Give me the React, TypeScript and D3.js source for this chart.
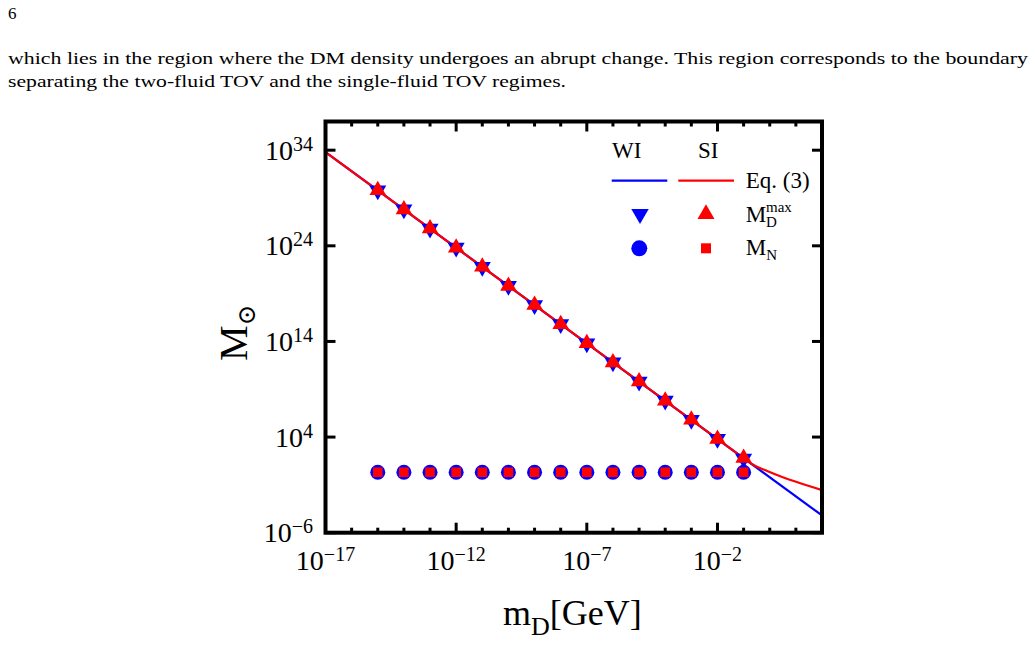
import React from 'react';
import * as d3 from 'd3';

// log10 of dark matter particle mass m_D [GeV] for the computed stars
const mDExp = [-15, -14, -13, -12, -11, -10, -9, -8, -7, -6, -5, -4, -3, -2, -1];
// log10 of M_D^max [M_sun]
const mDmaxWI = [29.8, 27.8, 25.8, 23.8, 21.8, 19.8, 17.8, 15.8, 13.8, 11.8, 9.8, 7.8, 5.8, 3.8, 1.75];
const mDmaxSI = [29.8, 27.8, 25.8, 23.8, 21.8, 19.8, 17.8, 15.8, 13.8, 11.8, 9.8, 7.8, 5.8, 3.8, 1.8];
// M_N [M_sun]
const mNWI = [2.1, 2.1, 2.1, 2.1, 2.1, 2.1, 2.1, 2.1, 2.1, 2.1, 2.1, 2.1, 2.1, 2.1, 2.1];
const mNSI = [2.1, 2.1, 2.1, 2.1, 2.1, 2.1, 2.1, 2.1, 2.1, 2.1, 2.1, 2.1, 2.1, 2.1, 2.1];
// Eq. (3) curves, log10 m_D vs log10 M
const eqWIm = [-17, 2];
const eqWIM = [33.8, -4.2];
const eqSIm = [-17, -1.5, -1, -0.6, -0.1, 0.5, 1.2, 2];
const eqSIM = [33.8, 2.8, 1.8, 1.05, 0.45, -0.2, -0.85, -1.55];

const xMajorExp = [-17, -12, -7, -2];
const xMinorExp = d3.range(-17, 3);
const yMajorExp = [-6, 4, 14, 24, 34];

const BLUE = '#0000ff';
const RED = '#ff0000';
const SERIF = 'Liberation Serif, Times New Roman, serif';

const p10 = (e: number) => Math.pow(10, e);

function triPath(s: number, down: boolean) {
  const h = (s * Math.sqrt(3)) / 2;
  const k = down ? -1 : 1;
  return `M0,${(-2 * h * k) / 3}L${-s / 2},${(h * k) / 3}L${s / 2},${(h * k) / 3}Z`;
}

export default function App() {
  const x0 = 325.5, x1 = 822, y0 = 121.5, y1 = 532.7;
  const x = d3.scaleLog().domain([1e-17, 1e2]).range([x0, x1]);
  const y = d3.scaleLog().domain([1e-6, 1e37]).range([y1, y0]);

  const line = d3
    .line<[number, number]>()
    .x(d => x(p10(d[0])))
    .y(d => y(p10(d[1])));
  const lineSI = d3
    .line<[number, number]>()
    .x(d => x(p10(d[0])))
    .y(d => y(p10(d[1])))
    .curve(d3.curveMonotoneX);

  const wiPts = eqWIm.map((m, i) => [m, eqWIM[i]] as [number, number]);
  const siPts = eqSIm.map((m, i) => [m, eqSIM[i]] as [number, number]);

  return (
    <svg width={1035} height={656} style={{ position: 'absolute', left: 0, top: 0, fontFamily: SERIF }}>
      <rect width={1035} height={656} fill="#fff" />
      {/* page text */}
      <text x={8} y={19} fontSize={17}>6</text>
      <text x={8} y={64} fontSize={17} textLength={1020} lengthAdjust="spacingAndGlyphs">
        which lies in the region where the DM density undergoes an abrupt change. This region corresponds to the boundary
      </text>
      <text x={8} y={87} fontSize={17} textLength={558} lengthAdjust="spacingAndGlyphs">
        separating the two-fluid TOV and the single-fluid TOV regimes.
      </text>

      {/* curves */}
      <path d={line(wiPts) || ''} fill="none" stroke={BLUE} strokeWidth={2.2} />
      <path d={lineSI(siPts) || ''} fill="none" stroke={RED} strokeWidth={2.2} />

      {/* markers */}
      {mDExp.map((m, i) => (
        <path key={'wt' + i} d={triPath(17, true)} fill={BLUE}
          transform={`translate(${x(p10(m))},${y(p10(mDmaxWI[i]))})`} />
      ))}
      {mDExp.map((m, i) => (
        <path key={'st' + i} d={triPath(16.5, false)} fill={RED}
          transform={`translate(${x(p10(m))},${y(p10(mDmaxSI[i]))})`} />
      ))}
      {mDExp.map((m, i) => (
        <circle key={'wc' + i} cx={x(p10(m))} cy={y(mNWI[i])} r={7.5} fill={BLUE} />
      ))}
      {mDExp.map((m, i) => (
        <rect key={'ss' + i} x={x(p10(m)) - 4.8} y={y(mNSI[i]) - 4.8} width={9.6} height={9.6} fill={RED} />
      ))}

      {/* frame and ticks */}
      {xMinorExp.map(e => {
        const len = xMajorExp.includes(e) ? 10 : 5;
        const px = x(p10(e));
        return (
          <g key={'xt' + e} stroke="#000" strokeWidth={3}>
            <line x1={px} x2={px} y1={y1} y2={y1 - len} />
            <line x1={px} x2={px} y1={y0} y2={y0 + len} />
          </g>
        );
      })}
      {yMajorExp.map(e => {
        const py = y(p10(e));
        return (
          <g key={'yt' + e} stroke="#000" strokeWidth={3}>
            <line x1={x0} x2={x0 + 10} y1={py} y2={py} />
            <line x1={x1} x2={x1 - 10} y1={py} y2={py} />
          </g>
        );
      })}
      <rect x={x0} y={y0} width={x1 - x0} height={y1 - y0} fill="none" stroke="#000" strokeWidth={4} />

      {/* tick labels */}
      {xMajorExp.map(e => (
        <text key={'xl' + e} x={x(p10(e))} y={570} textAnchor="middle" fontSize={28}>
          10<tspan dy={-9} fontSize={20}>{'\u2212' + Math.abs(e)}</tspan>
        </text>
      ))}
      {yMajorExp.map(e => (
        <text key={'yl' + e} x={313} y={y(p10(e)) + 9.5} textAnchor="end" fontSize={28}>
          10<tspan dy={-9} fontSize={20}>{(e < 0 ? '\u2212' : '') + Math.abs(e)}</tspan>
        </text>
      ))}

      {/* axis titles */}
      <text x={503} y={625} fontSize={36}>
        m<tspan dy={10} fontSize={26}>D</tspan><tspan dy={-10}>[GeV]</tspan>
      </text>
      <text transform="translate(247,361) rotate(-90)" fontSize={40}>
        M<tspan dy={8} fontSize={25} fontFamily="DejaVu Serif, serif">{'\u2299'}</tspan>
      </text>

      {/* legend */}
      <g fontSize={23}>
        <text x={626.7} y={158.3} textAnchor="middle">WI</text>
        <text x={708.3} y={158.3} textAnchor="middle">SI</text>
        <line x1={611.7} x2={667.3} y1={180.7} y2={180.7} stroke={BLUE} strokeWidth={2.2} />
        <line x1={678.3} x2={734} y1={180.7} y2={180.7} stroke={RED} strokeWidth={2.2} />
        <text x={745.7} y={188.3}>Eq. (3)</text>
        <path d={triPath(17.5, true)} fill={BLUE} transform="translate(640,214)" />
        <path d={triPath(17, false)} fill={RED} transform="translate(706,214)" />
        <text x={745.7} y={221.7}>M</text>
        <text x={766} y={212} fontSize={15}>max</text>
        <text x={766} y={227} fontSize={15}>D</text>
        <circle cx={639.3} cy={248.3} r={8} fill={BLUE} />
        <rect x={701} y={243.3} width={10} height={10} fill={RED} />
        <text x={745.7} y={255}>M<tspan dy={5} fontSize={15}>N</tspan></text>
      </g>
    </svg>
  );
}
